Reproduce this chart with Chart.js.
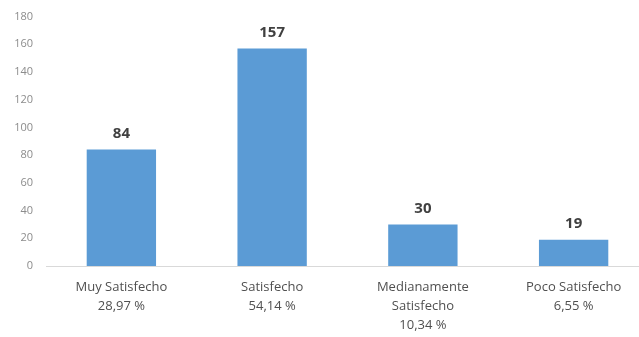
<!DOCTYPE html>
<html>
<head>
<meta charset="utf-8">
<script src="https://cdn.jsdelivr.net/npm/chart.js@4/dist/chart.umd.min.js"></script>
<style>
  html, body { margin: 0; padding: 0; background: #ffffff; overflow: hidden; }
  #wrap { position: relative; width: 652px; height: 340px; margin-top: -3px; }
</style>
</head>
<body>
<div id="wrap"><canvas id="chart"></canvas></div>
<script>
// category labels (two or three lines each, as in the picture)
const category_labels = [
  ["Muy Satisfecho", "28,97 %"],
  ["Satisfecho", "54,14 %"],
  ["Medianamente", "Satisfecho", "10,34 %"],
  ["Poco Satisfecho", "6,55 %"]];

const series_values = [84, 157, 30, 19];

const y_ticks = [0, 20, 40, 60, 80, 100, 120, 140, 160, 180];

const bar_color = "#5B9BD5";
const font_family = "'Open Sans', 'Liberation Sans', sans-serif";

// Draw the value above each bar, positions come from the bar elements
const value_labels = {
  id: 'value_labels',
  afterDatasetsDraw: function (chart) {
    var ctx = chart.ctx;
    var meta = chart.getDatasetMeta(0);
    ctx.save();
    ctx.font = "bold 15px " + font_family;
    ctx.fillStyle = "#404040";
    ctx.textAlign = "center";
    ctx.textBaseline = "bottom";
    meta.data.forEach(function (bar, i) {
      ctx.fillText(String(series_values[i]), bar.x, bar.y - 8);
    });
    ctx.restore();
  }
};

function contentLoaded() {
  new Chart(
    document.getElementById('chart'),
    {
      type: 'bar',
      data: {
        labels: category_labels,
        datasets: [{
          data: series_values,
          backgroundColor: bar_color,
          borderWidth: 0,
          categoryPercentage: 1.0,
          barPercentage: 0.46
        }]
      },
      options: {
        responsive: true,
        maintainAspectRatio: false,
        animation: false,
        layout: {
          padding: { top: 17, right: 3, left: 0, bottom: 0 }
        },
        scales: {
          x: {
            grid: { display: false, drawTicks: false },
            border: { display: true, color: "#d9d9d9", width: 1 },
            ticks: {
              color: "#505050",
              font: { family: font_family, size: 13, lineHeight: 1.45 },
              padding: 12,
              maxRotation: 0,
              autoSkip: false
            },
            afterFit: function (scale) { scale.height = 71; }
          },
          y: {
            min: 0,
            max: 180,
            grid: { display: false, drawTicks: false },
            border: { display: false },
            afterBuildTicks: function (scale) {
              scale.ticks = y_ticks.map(v => ({ value: v }));
            },
            ticks: {
              color: "#8c8c8c",
              font: { family: font_family, size: 11 },
              padding: 13
            },
            afterFit: function (scale) { scale.width = 46; }
          }
        },
        plugins: {
          legend: { display: false },
          tooltip: { enabled: false }
        },
        events: []
      },
      plugins: [value_labels]
    });
}

document.addEventListener('DOMContentLoaded', contentLoaded, false);
</script>
</body>
</html>
